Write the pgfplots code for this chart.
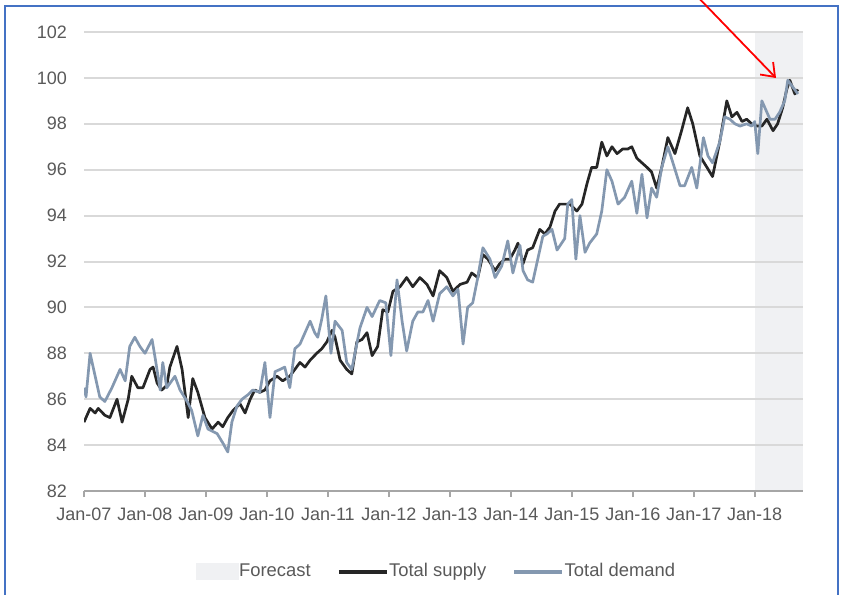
\documentclass[border=0pt]{standalone}
\usepackage{fontspec}
\setmainfont{Liberation Sans}
\usepackage{pgfplots}
\pgfplotsset{compat=1.18}
\usetikzlibrary{arrows.meta}
\definecolor{txtgray}{RGB}{89,89,89}
\definecolor{gridgray}{RGB}{217,217,217}
\definecolor{axgray}{RGB}{166,166,166}
\definecolor{supplyc}{RGB}{38,38,38}
\definecolor{demandc}{RGB}{132,152,176}
\definecolor{bandc}{RGB}{240,241,243}
\definecolor{borderblue}{RGB}{68,114,196}
\begin{document}
\begin{tikzpicture}
\begin{axis}[
  set layers,
  scale only axis,
  width=359.5pt, height=229.5pt,
  xmin=0, xmax=141.5, ymin=82, ymax=102,
  axis lines*=left,
  x axis line style={axgray, line width=1pt},
  y axis line style={draw=none},
  xtick={0,12,...,132},
  xticklabels={Jan-07,Jan-08,Jan-09,Jan-10,Jan-11,Jan-12,Jan-13,Jan-14,Jan-15,Jan-16,Jan-17,Jan-18},
  ytick={82,84,...,102},
  tick align=outside,
  xtick style={axgray, line width=0.8pt},
  major tick length=3pt,
  ytick style={draw=none},
  ymajorgrids,
  major grid style={gridgray, line width=1pt},
  tick label style={font=\fontsize{9}{10}\selectfont, text=txtgray},
  /pgf/number format/assume math mode=true,
  yticklabel style={xshift=-2pt},
  xticklabel style={yshift=-2pt},
  legend columns=3,
  legend style={at={(axis description cs:0.492,-0.176)}, anchor=center, draw=none, fill=none,
    font=\fontsize{9.2}{10}\selectfont, text=txtgray,
    /tikz/every odd column/.append style={column sep=-2pt},
    /tikz/every even column/.append style={column sep=11pt}},
  legend cell align=left,
]
\addplot[fill=bandc, draw=none, on layer=axis background, forget plot]
  coordinates {(132,82) (141.5,82) (141.5,102) (132,102)};
\addlegendimage{legend image code/.code={\fill[bandc] (-2pt,-4pt) rectangle (19pt,4pt);}}
\addlegendentry{Forecast}
\addplot[supplyc, line width=1.35pt, line join=round,
  legend image code/.code={\draw[supplyc,line width=2.2pt] (-3pt,0pt) -- (21pt,0pt);}]
  coordinates {
(0,85.0)(1.2,85.6)(2.2,85.4)(2.8,85.6)(4.1,85.3)(5.1,85.2)(6.5,86.0)(7.5,85.0)(8.7,86.0)(9.4,87.0)
(10.6,86.5)(11.6,86.5)(13,87.3)(13.6,87.4)(14.4,86.7)(15.3,86.4)(16.3,86.6)(16.9,87.4)(18.3,88.3)(19.3,87.3)
(20.5,85.2)(21.4,86.9)(22.4,86.3)(23.8,85.2)(25.2,84.7)(26.4,85.0)(27.3,84.8)(28.3,85.2)(29.3,85.5)(30.7,85.8)
(31.7,85.4)(32.7,86.0)(33.6,86.4)(34.6,86.3)(35.6,86.4)(36.6,86.8)(38,87.0)(39.1,86.8)(40.5,87.0)(41.5,87.3)
(42.5,87.6)(43.5,87.4)(44.5,87.7)(45.8,88.0)(46.8,88.2)(47.8,88.5)(48.8,89.0)(49.4,88.7)(50.4,87.7)(51.7,87.3)
(52.7,87.1)(53.7,88.5)(54.7,88.6)(55.7,88.9)(56.7,87.9)(57.8,88.3)(58.8,89.9)(59.8,89.8)(60.8,90.7)(62.2,90.9)
(63.5,91.3)(64.7,90.9)(66.1,91.3)(67.5,91.0)(68.7,90.5)(70,91.6)(71.4,91.3)(72.6,90.7)(74,91.0)(75.4,91.1)
(76.3,91.5)(77.5,91.3)(78.5,92.3)(79.5,92.1)(80.9,91.6)(81.8,91.9)(82.8,92.1)(83.8,92.1)(84.8,92.5)(85.4,92.8)
(86.4,91.9)(87.3,92.5)(88.3,92.6)(89.7,93.4)(90.7,93.2)(91.7,93.5)(92.7,94.2)(93.6,94.5)(94.6,94.5)(95.6,94.5)
(97,94.2)(98,94.5)(99,95.4)(99.9,96.1)(100.9,96.1)(101.9,97.2)(102.9,96.6)(103.9,97.0)(104.9,96.7)(106,96.9)
(107,96.9)(107.8,97.0)(108.8,96.5)(109.8,96.3)(110.8,96.1)(111.7,95.9)(112.7,95.2)(113.7,96.1)(114.9,97.4)(116.3,96.7)
(117.6,97.7)(118.8,98.7)(119.8,98.0)(121.2,96.6)(122.6,96.1)(123.7,95.7)(125.1,97.2)(126.5,99.0)(127.5,98.3)(128.5,98.5)
(129.5,98.1)(130.4,98.2)(131.4,98.0)(132.4,97.9)(133.4,97.9)(134.4,98.2)(135.6,97.7)(136.5,98.0)(137.5,98.7)(138.3,99.5)
(138.9,99.9)(139.9,99.3)(140.5,99.5)
};
\addlegendentry{Total supply}
\addplot[demandc, line width=1.35pt, line join=round,
  legend image code/.code={\draw[demandc,line width=2.2pt] (-3pt,0pt) -- (21pt,0pt);}]
  coordinates {
(0,86.5)(0.4,86.1)(1.2,88.0)(2.2,87.0)(3.1,86.1)(4.1,85.9)(5.5,86.5)(7.1,87.3)(8.1,86.8)(9,88.3)
(10,88.7)(11,88.3)(12,88.0)(13.4,88.6)(14,87.8)(15,86.4)(15.5,87.6)(16.3,86.5)(17.9,87.0)(18.9,86.4)
(20.3,85.9)(21.2,85.5)(22.4,84.4)(23.4,85.3)(24.4,84.7)(26.2,84.5)(27.3,84.1)(28.3,83.7)(29.1,85.0)(30.1,85.7)
(31.1,86.0)(32.3,86.2)(33.2,86.4)(34.6,86.3)(35.6,87.6)(36.6,85.2)(37.6,87.2)(38.6,87.3)(39.5,87.4)(40.5,86.5)
(41.5,88.2)(42.5,88.4)(44.5,89.4)(45.4,88.9)(46,88.7)(46.8,89.5)(47.6,90.5)(48.6,88.0)(49.4,89.4)(50.8,89.0)
(51.7,87.6)(52.7,87.3)(54.3,89.1)(55.7,90.0)(56.7,89.6)(58.2,90.3)(59.4,90.2)(60.4,87.9)(61.6,91.2)(62.6,89.4)
(63.5,88.1)(64.7,89.4)(65.7,89.8)(66.7,89.8)(67.7,90.3)(68.7,89.4)(70,90.6)(71.4,90.9)(72.6,90.5)(73.6,90.8)
(74.6,88.4)(75.5,90.0)(76.5,90.2)(77.5,91.3)(78.5,92.6)(79.9,92.1)(80.9,91.3)(82.2,91.8)(83.4,92.9)(84.4,91.5)
(85.8,92.7)(86.4,91.6)(87.3,91.2)(88.3,91.1)(89.3,92.1)(90.3,93.1)(91.1,93.2)(92.1,93.4)(93.1,92.5)(94,92.8)
(94.6,93.0)(95.2,94.5)(96,94.7)(96.8,92.1)(97.6,94.0)(98.6,92.4)(99.5,92.8)(100.9,93.2)(101.9,94.2)(102.9,96.0)
(103.9,95.5)(105.1,94.5)(106.4,94.8)(107.8,95.5)(108.8,94.1)(109.8,95.8)(110.8,93.9)(111.7,95.2)(112.7,94.8)(113.7,96.1)
(114.9,97.0)(115.9,96.3)(117.3,95.3)(118.2,95.3)(119.6,96.1)(120.6,95.2)(121.9,97.4)(122.8,96.6)(123.7,96.3)(125.1,97.2)
(126.1,98.3)(127.1,98.2)(128.1,98.0)(129.1,97.9)(130.4,98.0)(131.4,97.9)(132,98.1)(132.6,96.7)(133.4,99.0)(134,98.7)
(135,98.2)(136,98.2)(136.9,98.5)(137.9,99.0)(138.5,99.9)(139.5,99.6)(140.5,99.3)
};
\addlegendentry{Total demand}
\end{axis}
\draw[borderblue, line width=0.9pt] (-39.5pt,-60pt) -- (-39.5pt,242.5pt) -- (377pt,242.5pt) -- (377pt,-60pt);
\draw[red, line width=0.9pt, -{Straight Barb[length=6pt,width=9pt]}] (304pt,250pt) -- (346pt,206.5pt);
\pgfresetboundingbox
\path[use as bounding box] (-42pt,-51.5pt) rectangle (380pt,245.5pt);
\end{tikzpicture}
\end{document}
